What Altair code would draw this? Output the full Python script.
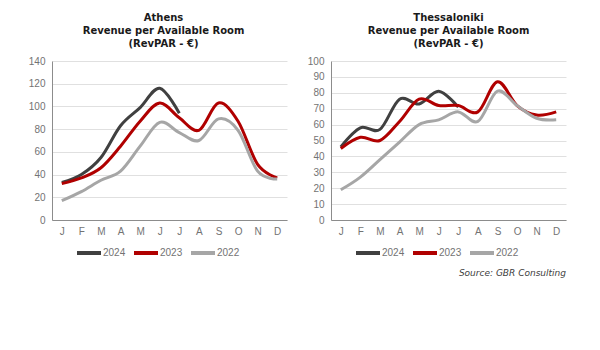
import altair as alt
import pandas as pd

months = ["Jan", "Feb", "Mar", "Apr", "May", "Jun", "Jul", "Aug", "Sep", "Oct", "Nov", "Dec"]
years = ["2024", "2023", "2022"]
colors = ["#404040", "#b00000", "#a6a6a6"]

athens_2024 = [33, 40, 55, 83, 99, 116, 94, None, None, None, None, None]
athens_2023 = [32, 37, 46, 65, 87, 103, 90, 79, 103, 87, 49, 37]
athens_2022 = [17, 25, 35, 43, 65, 86, 77, 70, 89, 79, 43, 36]

thess_2024 = [46, 58, 57, 76, 73, 81, 71, None, None, None, None, None]
thess_2023 = [45, 52, 50, 62, 76, 72, 72, 68, 87, 72, 66, 68]
thess_2022 = [19, 27, 38, 49, 60, 63, 68, 62, 81, 72, 64, 63]


def long_df(series):
    rows = []
    for yr, vals in zip(years, series):
        for m, v in zip(months, vals):
            if v is not None:
                rows.append({"month": m, "year": yr, "value": v})
    return pd.DataFrame(rows)


def panel(title_lines, series, ymax, step, yextent, title_dx, legend_x):
    df = long_df(series)
    return alt.Chart(df).mark_line(interpolate="cardinal", strokeWidth=3).encode(
        x=alt.X(
            "month:N", sort=months,
            scale=alt.Scale(type="point", padding=0.5),
            axis=alt.Axis(title=None, labelExpr="substring(datum.label, 0, 1)",
                          labelAngle=0, grid=False, ticks=False, labelPadding=6),
        ),
        y=alt.Y(
            "value:Q",
            scale=alt.Scale(domain=[0, ymax], nice=False),
            axis=alt.Axis(title=None, values=list(range(0, ymax + 1, step)),
                          grid=True, ticks=False, labelPadding=7,
                          minExtent=yextent, maxExtent=yextent),
        ),
        color=alt.Color(
            "year:N",
            scale=alt.Scale(domain=years, range=colors),
            legend=alt.Legend(title=None, orient="none", legendX=legend_x, legendY=178,
                              direction="horizontal"),
        ),
    ).properties(
        width=235, height=159,
        title=alt.TitleParams(text=title_lines, font="DejaVu Sans", fontSize=10,
                              fontWeight="bold", color="#1a1a1a", lineHeight=13,
                              offset=7, dx=title_dx, anchor="middle"),
    )


athens = panel(["Athens", "Revenue per Available Room", "(RevPAR - \u20ac)"],
               [athens_2024, athens_2023, athens_2022], 140, 20, 52, -6, 23)
thess = panel(["Thessaloniki", "Revenue per Available Room", "(RevPAR - \u20ac)"],
              [thess_2024, thess_2023, thess_2022], 100, 10, 44, 0, 23)

chart = alt.hconcat(athens, thess, spacing=0).resolve_scale(
    x="independent", y="independent", color="independent"
).resolve_legend(color="independent").properties(
    padding={"left": 0, "top": 13, "right": 5, "bottom": 5},
    title=alt.TitleParams("Source: GBR Consulting", orient="bottom", anchor="end",
                          font="DejaVu Sans", fontStyle="italic", fontSize=9,
                          fontWeight="normal", color="#404040", offset=8),
).configure_view(stroke=None).configure_axis(
    labelFont="Liberation Sans", labelFontSize=10, labelColor="#737373",
    domainColor="#8c8c8c", gridColor="#e0e0e0", domainWidth=1,
).configure_legend(
    symbolType="stroke", symbolSize=576, symbolStrokeWidth=4,
    labelFont="Liberation Sans", labelFontSize=10, labelColor="#737373",
    columnPadding=0, labelOffset=0, padding=0,
)

chart.save("out.html", embed_options={"renderer": "svg", "actions": False})
